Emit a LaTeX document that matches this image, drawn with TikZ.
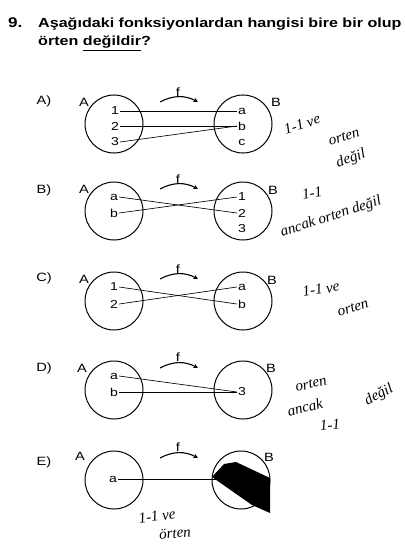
\documentclass[tikz,border=0pt]{standalone}
\usepackage{fontspec}
\setmainfont{Liberation Sans}
\newfontfamily\widefont{Liberation Sans}[FakeStretch=1.22]
\newfontfamily\handfont{Liberation Serif}
\usetikzlibrary{arrows}
\tikzstyle{set} = [circle, draw=black, line width=1pt,
minimum size=58pt, inner sep=0pt]
\tikzstyle{elem} = [inner sep=1pt, font=\widefont\fontsize{11.5}{13}\selectfont]
\tikzstyle{setname} = [inner sep=0pt, font=\widefont\fontsize{12}{14}\selectfont]
\tikzstyle{choice} = [inner sep=0pt, font=\widefont\fontsize{12}{14}\selectfont]
\tikzstyle{map} = [line width=0.65pt]
\tikzstyle{farrow} = [line width=1.1pt,->,>=stealth]
\tikzstyle{note} = [inner sep=0pt, font=\handfont\itshape\fontsize{15}{17}\selectfont]

\begin{document}
\begin{tikzpicture}[x=1pt,y=-1pt]
\useasboundingbox (0,0) rectangle (404,559);

% Question
\node[anchor=base west, inner sep=0pt, font=\widefont\bfseries\fontsize{14}{16}\selectfont] (qnum) at (8,28) {9.};
\node[anchor=base west, inner sep=0pt, font=\widefont\bfseries\fontsize{13.2}{15}\selectfont] (qline1) at (38,28) {Aşağıdaki fonksiyonlardan hangisi bire bir olup};
\node[anchor=base west, inner sep=0pt, font=\widefont\bfseries\fontsize{13.2}{15}\selectfont] (qline2) at (38,46) {örten \underline{değildir}?};

% A)
\node[choice] (optA) at (44,101) {A)};
\node[set] (setA1) at (114,124) {};
\node[set] (setB1) at (243,124) {};
\node[setname] (nameA1) at (84,102) {A};
\node[setname] (nameB1) at (276,102) {B};
\node[elem] (a1one) at (115,111) {1};
\node[elem] (a1two) at (115,126) {2};
\node[elem] (a1three) at (115,142) {3};
\node[elem] (b1a) at (242,111) {a};
\node[elem] (b1b) at (242,126) {b};
\node[elem] (b1c) at (242,142) {c};
\coordinate (f1start) at (160,102);
\coordinate (f1end) at (198,102);
\draw[farrow] (f1start) to[bend left=28] (f1end);
\node[setname] (f1) at (178,92) {f};
\draw[map] (a1one.east) -- (b1a.west);
\draw[map] (a1two.east) -- (b1b.west);
\draw[map] (a1three.east) -- (b1b.west);
\node[note, rotate=18] (noteA1) at (302,124) {1-1 ve};
\node[note, rotate=17] (noteA2) at (344,137) {orten};
\node[note, rotate=19] (noteA3) at (351,159) {değil};

% B)
\node[choice] (optB) at (44,190) {B)};
\node[set] (setA2) at (114,211) {};
\node[set] (setB2) at (243,211) {};
\node[setname] (nameA2) at (84,189) {A};
\node[setname] (nameB2) at (273,190) {B};
\node[elem] (a2a) at (114,197) {a};
\node[elem] (a2b) at (114,213) {b};
\node[elem] (b2one) at (242,197) {1};
\node[elem] (b2two) at (242,213) {2};
\node[elem] (b2three) at (242,229) {3};
\coordinate (f2start) at (160,189);
\coordinate (f2end) at (198,189);
\draw[farrow] (f2start) to[bend left=28] (f2end);
\node[setname] (f2) at (178,179) {f};
\draw[map] (a2a.east) -- (b2two.west);
\draw[map] (a2b.east) -- (b2one.west);
\node[note, rotate=10] (noteB1) at (312,193) {1-1};
\node[note, rotate=18] (noteB2) at (331,217) {ancak orten değil};

% C)
\node[choice] (optC) at (44,278) {C)};
\node[set] (setA3) at (114,301) {};
\node[set] (setB3) at (243,301) {};
\node[setname] (nameA3) at (84,279) {A};
\node[setname] (nameB3) at (272,280) {B};
\node[elem] (a3one) at (114,287) {1};
\node[elem] (a3two) at (114,304) {2};
\node[elem] (b3a) at (242,287) {a};
\node[elem] (b3b) at (242,304) {b};
\coordinate (f3start) at (160,279);
\coordinate (f3end) at (198,279);
\draw[farrow] (f3start) to[bend left=28] (f3end);
\node[setname] (f3) at (178,269) {f};
\draw[map] (a3one.east) -- (b3b.west);
\draw[map] (a3two.east) -- (b3a.west);
\node[note, rotate=9] (noteC1) at (321,289) {1-1 ve};
\node[note, rotate=18] (noteC2) at (353,308) {orten};

% D)
\node[choice] (optD) at (44,368) {D)};
\node[set] (setA4) at (114,390) {};
\node[set] (setB4) at (243,390) {};
\node[setname] (nameA4) at (82,368) {A};
\node[setname] (nameB4) at (271,368) {B};
\node[elem] (a4a) at (114,376) {a};
\node[elem] (a4b) at (114,392) {b};
\node[elem] (b4three) at (242,392) {3};
\coordinate (f4start) at (160,368);
\coordinate (f4end) at (198,368);
\draw[farrow] (f4start) to[bend left=28] (f4end);
\node[setname] (f4) at (178,357) {f};
\draw[map] (a4a.east) -- (b4three.west);
\draw[map] (a4b.east) -- (b4three.west);
\node[note, rotate=14] (noteD1) at (311,384) {orten};
\node[note, rotate=14] (noteD2) at (305,407) {ancak};
\node[note, rotate=5] (noteD3) at (330,425) {1-1};
\node[note, rotate=28] (noteD4) at (379,395) {değil};

% E)
\node[choice] (optE) at (44,462) {E)};
\node[set] (setA5) at (114,480) {};
\node[set] (setB5) at (241,480) {};
\node[setname] (nameA5) at (80,456) {A};
\node[setname] (nameB5) at (269,457) {B};
\node[elem] (a5a) at (113,479) {a};
\coordinate (b5end) at (236,479);
\coordinate (f5start) at (160,458);
\coordinate (f5end) at (198,458);
\draw[farrow] (f5start) to[bend left=28] (f5end);
\node[setname] (f5) at (178,447) {f};
\draw[map] (a5a.east) -- (b5end);
% pen over the right set
\fill[black] (212,477) -- (224,464) -- (236,462) -- (270,478) -- (270,513) -- (252,505) -- cycle;
\node[note, rotate=8] (noteE1) at (157,516) {1-1 ve};
\node[note, rotate=5] (noteE2) at (175,533) {örten};

\end{tikzpicture}
\end{document}
